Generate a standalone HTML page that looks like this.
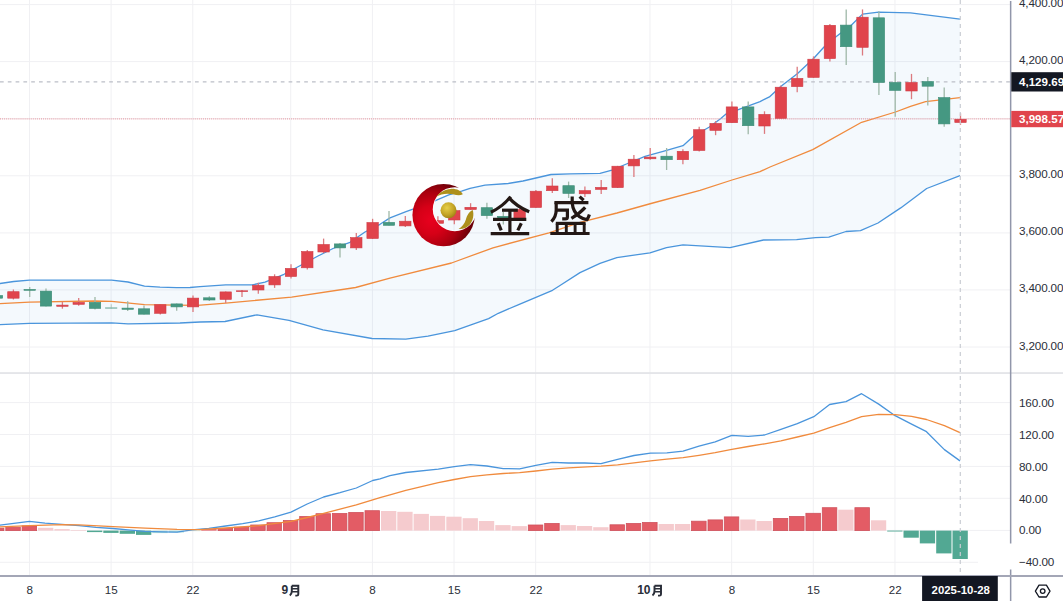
<!DOCTYPE html>
<html><head><meta charset="utf-8"><title>chart</title>
<style>
html,body{margin:0;padding:0;background:#fff;}
body{width:1063px;height:601px;overflow:hidden;position:relative;font-family:"Liberation Sans",sans-serif;}
</style></head><body>
<svg width="1063" height="601" viewBox="0 0 1063 601" style="position:absolute;left:0;top:0;display:block">
<defs><radialGradient id="rg" cx="0.30" cy="0.58" r="0.64"><stop offset="0" stop-color="#e8001e"/><stop offset="0.35" stop-color="#d60017"/><stop offset="0.7" stop-color="#aa000f"/><stop offset="1" stop-color="#6c0008"/></radialGradient><radialGradient id="gg" cx="0.4" cy="0.35" r="0.7"><stop offset="0" stop-color="#e6cf4a"/><stop offset="0.6" stop-color="#c4a526"/><stop offset="1" stop-color="#9c7f14"/></radialGradient><clipPath id="plot"><rect x="0" y="0" width="1010" height="575"/></clipPath></defs>
<rect width="1063" height="601" fill="#fff"/>
<g stroke="#f0f0f3" stroke-width="1">
<line x1="29.45" y1="0" x2="29.45" y2="575"/>
<line x1="111.10" y1="0" x2="111.10" y2="575"/>
<line x1="192.75" y1="0" x2="192.75" y2="575"/>
<line x1="290.73" y1="0" x2="290.73" y2="575"/>
<line x1="372.38" y1="0" x2="372.38" y2="575"/>
<line x1="454.03" y1="0" x2="454.03" y2="575"/>
<line x1="535.68" y1="0" x2="535.68" y2="575"/>
<line x1="649.99" y1="0" x2="649.99" y2="575"/>
<line x1="731.64" y1="0" x2="731.64" y2="575"/>
<line x1="813.29" y1="0" x2="813.29" y2="575"/>
<line x1="894.94" y1="0" x2="894.94" y2="575"/>
<line x1="0" y1="4.6" x2="1010" y2="4.6"/>
<line x1="0" y1="61.6" x2="1010" y2="61.6"/>
<line x1="0" y1="118.7" x2="1010" y2="118.7"/>
<line x1="0" y1="175.8" x2="1010" y2="175.8"/>
<line x1="0" y1="232.9" x2="1010" y2="232.9"/>
<line x1="0" y1="289.9" x2="1010" y2="289.9"/>
<line x1="0" y1="347.0" x2="1010" y2="347.0"/>
<line x1="0" y1="402.6" x2="1010" y2="402.6"/>
<line x1="0" y1="434.5" x2="1010" y2="434.5"/>
<line x1="0" y1="466.4" x2="1010" y2="466.4"/>
<line x1="0" y1="498.3" x2="1010" y2="498.3"/>
<line x1="0" y1="530.4" x2="1010" y2="530.4"/>
<line x1="0" y1="562.3" x2="1010" y2="562.3"/>
</g>
<rect x="0" y="372.2" width="1063" height="1.7" fill="#e2e3e7"/>
<polygon points="-3.0,283.7 0.0,283.5 13.7,281.5 29.5,280.1 111.6,280.1 128.0,282.0 144.5,286.1 160.0,287.2 176.5,287.6 190.0,287.5 200.0,286.7 225.7,284.9 252.0,284.9 265.0,282.2 284.0,274.3 299.0,266.2 318.0,256.0 333.0,248.5 350.0,242.3 365.0,232.0 380.0,224.3 390.0,217.9 406.0,211.7 420.0,206.6 433.0,201.6 448.8,194.8 461.6,191.1 470.0,188.4 485.0,185.2 508.0,183.5 523.0,181.0 551.0,174.5 570.0,173.9 600.0,173.4 612.0,170.2 626.4,164.0 645.0,156.4 664.0,151.2 683.0,145.7 694.0,135.7 709.0,127.3 720.5,118.8 726.0,114.1 739.0,109.4 760.0,101.6 769.4,96.9 780.7,86.5 797.6,73.4 813.8,58.3 824.0,47.0 835.0,37.6 852.0,24.5 862.5,14.1 878.5,12.2 910.5,12.8 960.0,19.2 960.0,175.7 926.7,188.5 900.7,207.9 878.0,223.0 860.5,230.6 846.0,231.5 828.8,237.2 815.5,237.7 796.6,239.6 763.5,240.0 730.0,247.6 683.0,244.8 666.5,247.6 650.0,252.8 616.8,257.6 600.0,263.3 580.0,272.6 560.0,285.5 552.5,290.3 518.7,304.6 498.3,313.3 488.6,318.6 454.7,330.6 428.0,336.2 405.8,339.2 372.0,338.5 323.0,329.8 289.0,320.4 257.0,314.8 225.0,321.5 200.0,322.0 180.0,323.0 128.0,323.9 111.6,322.8 29.5,323.4 0.0,324.7 -3.0,324.8" fill="#2f8fe0" fill-opacity="0.055"/>
<polyline points="-3.0,283.7 0.0,283.5 13.7,281.5 29.5,280.1 111.6,280.1 128.0,282.0 144.5,286.1 160.0,287.2 176.5,287.6 190.0,287.5 200.0,286.7 225.7,284.9 252.0,284.9 265.0,282.2 284.0,274.3 299.0,266.2 318.0,256.0 333.0,248.5 350.0,242.3 365.0,232.0 380.0,224.3 390.0,217.9 406.0,211.7 420.0,206.6 433.0,201.6 448.8,194.8 461.6,191.1 470.0,188.4 485.0,185.2 508.0,183.5 523.0,181.0 551.0,174.5 570.0,173.9 600.0,173.4 612.0,170.2 626.4,164.0 645.0,156.4 664.0,151.2 683.0,145.7 694.0,135.7 709.0,127.3 720.5,118.8 726.0,114.1 739.0,109.4 760.0,101.6 769.4,96.9 780.7,86.5 797.6,73.4 813.8,58.3 824.0,47.0 835.0,37.6 852.0,24.5 862.5,14.1 878.5,12.2 910.5,12.8 960.0,19.2" fill="none" stroke="#4a95dc" stroke-width="1.3" stroke-linejoin="round"/>
<polyline points="-3.0,324.8 0.0,324.7 29.5,323.4 111.6,322.8 128.0,323.9 180.0,323.0 200.0,322.0 225.0,321.5 257.0,314.8 289.0,320.4 323.0,329.8 372.0,338.5 405.8,339.2 428.0,336.2 454.7,330.6 488.6,318.6 498.3,313.3 518.7,304.6 552.5,290.3 560.0,285.5 580.0,272.6 600.0,263.3 616.8,257.6 650.0,252.8 666.5,247.6 683.0,244.8 730.0,247.6 763.5,240.0 796.6,239.6 815.5,237.7 828.8,237.2 846.0,231.5 860.5,230.6 878.0,223.0 900.7,207.9 926.7,188.5 960.0,175.7" fill="none" stroke="#4a95dc" stroke-width="1.3" stroke-linejoin="round"/>
<polyline points="-3.0,303.8 0.0,303.6 29.5,302.1 94.0,301.0 111.6,301.4 144.5,304.6 176.5,305.1 197.5,305.4 225.7,303.1 291.6,297.1 355.6,287.5 390.0,278.1 451.5,263.0 493.0,247.8 549.0,232.8 580.0,222.4 617.0,213.0 651.0,203.5 700.0,190.3 732.0,180.0 760.0,171.6 770.0,167.0 812.7,149.6 861.6,122.3 895.5,112.0 910.5,106.3 925.6,101.6 960.0,97.6" fill="none" stroke="#f08b3e" stroke-width="1.3" stroke-linejoin="round"/>
<line x1="0" y1="81.8" x2="1010" y2="81.8" stroke="#bcbfc7" stroke-width="1.3" stroke-dasharray="3.7 4.1"/>
<line x1="0" y1="118.9" x2="1010" y2="118.9" stroke="#e8909a" stroke-width="1" stroke-dasharray="1 1.05"/>
<g><line x1="-3.0" y1="294.0" x2="-3.0" y2="300.0" stroke="#9fb8a8" stroke-width="1.3"/><rect x="-8.7" y="295.5" width="11.4" height="2.7" fill="#459882" stroke="#3d8c76" stroke-width="0.6"/></g>
<g><line x1="13.4" y1="289.5" x2="13.4" y2="299.5" stroke="#dc7a7f" stroke-width="1.3"/><rect x="7.7" y="291.7" width="11.4" height="6.5" fill="#e0444c" stroke="#cf3d46" stroke-width="0.6"/></g>
<g><line x1="29.7" y1="287.1" x2="29.7" y2="297.0" stroke="#9fb8a8" stroke-width="1.3"/><rect x="24.0" y="289.4" width="11.4" height="0.9" fill="#459882" stroke="#3d8c76" stroke-width="0.6"/></g>
<g><line x1="46.0" y1="288.6" x2="46.0" y2="306.4" stroke="#9fb8a8" stroke-width="1.3"/><rect x="40.3" y="291.1" width="11.4" height="15.0" fill="#459882" stroke="#3d8c76" stroke-width="0.6"/></g>
<g><line x1="62.4" y1="301.7" x2="62.4" y2="308.7" stroke="#dc7a7f" stroke-width="1.3"/><rect x="56.7" y="305.1" width="11.4" height="1.2" fill="#e0444c" stroke="#cf3d46" stroke-width="0.6"/></g>
<g><line x1="78.7" y1="298.0" x2="78.7" y2="305.7" stroke="#dc7a7f" stroke-width="1.3"/><rect x="73.0" y="302.4" width="11.4" height="1.9" fill="#e0444c" stroke="#cf3d46" stroke-width="0.6"/></g>
<g><line x1="95.0" y1="297.0" x2="95.0" y2="309.6" stroke="#9fb8a8" stroke-width="1.3"/><rect x="89.3" y="302.4" width="11.4" height="6.0" fill="#459882" stroke="#3d8c76" stroke-width="0.6"/></g>
<g opacity="0.55"><line x1="111.3" y1="304.2" x2="111.3" y2="308.7" stroke="#9fb8a8" stroke-width="1.3"/><rect x="105.6" y="307.7" width="11.4" height="0.8" fill="#459882" stroke="#3d8c76" stroke-width="0.6"/></g>
<g><line x1="127.7" y1="301.2" x2="127.7" y2="311.0" stroke="#9fb8a8" stroke-width="1.3"/><rect x="122.0" y="308.1" width="11.4" height="1.2" fill="#459882" stroke="#3d8c76" stroke-width="0.6"/></g>
<g><line x1="144.0" y1="305.5" x2="144.0" y2="314.5" stroke="#9fb8a8" stroke-width="1.3"/><rect x="138.3" y="308.8" width="11.4" height="5.4" fill="#459882" stroke="#3d8c76" stroke-width="0.6"/></g>
<g><line x1="160.3" y1="304.4" x2="160.3" y2="314.5" stroke="#dc7a7f" stroke-width="1.3"/><rect x="154.6" y="304.7" width="11.4" height="8.6" fill="#e0444c" stroke="#cf3d46" stroke-width="0.6"/></g>
<g><line x1="176.7" y1="303.6" x2="176.7" y2="310.8" stroke="#9fb8a8" stroke-width="1.3"/><rect x="171.0" y="303.9" width="11.4" height="3.0" fill="#459882" stroke="#3d8c76" stroke-width="0.6"/></g>
<g><line x1="193.0" y1="295.6" x2="193.0" y2="312.0" stroke="#dc7a7f" stroke-width="1.3"/><rect x="187.3" y="298.1" width="11.4" height="8.8" fill="#e0444c" stroke="#cf3d46" stroke-width="0.6"/></g>
<g><line x1="209.3" y1="296.3" x2="209.3" y2="301.0" stroke="#9fb8a8" stroke-width="1.3"/><rect x="203.6" y="297.8" width="11.4" height="2.2" fill="#459882" stroke="#3d8c76" stroke-width="0.6"/></g>
<g><line x1="225.7" y1="291.6" x2="225.7" y2="303.1" stroke="#dc7a7f" stroke-width="1.3"/><rect x="220.0" y="291.9" width="11.4" height="7.5" fill="#e0444c" stroke="#cf3d46" stroke-width="0.6"/></g>
<g><line x1="242.0" y1="290.0" x2="242.0" y2="296.9" stroke="#dc7a7f" stroke-width="1.3"/><rect x="236.3" y="290.8" width="11.4" height="0.8" fill="#e0444c" stroke="#cf3d46" stroke-width="0.6"/></g>
<g><line x1="258.3" y1="282.8" x2="258.3" y2="293.7" stroke="#dc7a7f" stroke-width="1.3"/><rect x="252.6" y="285.2" width="11.4" height="4.8" fill="#e0444c" stroke="#cf3d46" stroke-width="0.6"/></g>
<g><line x1="274.6" y1="274.3" x2="274.6" y2="287.9" stroke="#dc7a7f" stroke-width="1.3"/><rect x="268.9" y="276.5" width="11.4" height="8.4" fill="#e0444c" stroke="#cf3d46" stroke-width="0.6"/></g>
<g><line x1="291.0" y1="264.3" x2="291.0" y2="278.6" stroke="#dc7a7f" stroke-width="1.3"/><rect x="285.3" y="268.4" width="11.4" height="8.1" fill="#e0444c" stroke="#cf3d46" stroke-width="0.6"/></g>
<g><line x1="307.3" y1="250.0" x2="307.3" y2="269.6" stroke="#dc7a7f" stroke-width="1.3"/><rect x="301.6" y="251.5" width="11.4" height="16.3" fill="#e0444c" stroke="#cf3d46" stroke-width="0.6"/></g>
<g><line x1="323.6" y1="238.6" x2="323.6" y2="253.2" stroke="#dc7a7f" stroke-width="1.3"/><rect x="317.9" y="244.5" width="11.4" height="7.5" fill="#e0444c" stroke="#cf3d46" stroke-width="0.6"/></g>
<g><line x1="340.0" y1="242.9" x2="340.0" y2="257.4" stroke="#9fb8a8" stroke-width="1.3"/><rect x="334.3" y="243.9" width="11.4" height="4.0" fill="#459882" stroke="#3d8c76" stroke-width="0.6"/></g>
<g><line x1="356.3" y1="232.9" x2="356.3" y2="249.9" stroke="#dc7a7f" stroke-width="1.3"/><rect x="350.6" y="237.6" width="11.4" height="10.3" fill="#e0444c" stroke="#cf3d46" stroke-width="0.6"/></g>
<g><line x1="372.6" y1="218.8" x2="372.6" y2="238.8" stroke="#dc7a7f" stroke-width="1.3"/><rect x="366.9" y="222.5" width="11.4" height="16.0" fill="#e0444c" stroke="#cf3d46" stroke-width="0.6"/></g>
<g><line x1="389.0" y1="211.1" x2="389.0" y2="225.6" stroke="#9fb8a8" stroke-width="1.3"/><rect x="383.3" y="222.4" width="11.4" height="2.9" fill="#459882" stroke="#3d8c76" stroke-width="0.6"/></g>
<g><line x1="405.3" y1="215.9" x2="405.3" y2="227.1" stroke="#dc7a7f" stroke-width="1.3"/><rect x="399.6" y="221.2" width="11.4" height="4.7" fill="#e0444c" stroke="#cf3d46" stroke-width="0.6"/></g>
<g><line x1="421.6" y1="216.0" x2="421.6" y2="225.0" stroke="#dc7a7f" stroke-width="1.3"/><rect x="415.9" y="219.3" width="11.4" height="3.4" fill="#e0444c" stroke="#cf3d46" stroke-width="0.6"/></g>
<g><line x1="437.9" y1="216.3" x2="437.9" y2="224.5" stroke="#dc7a7f" stroke-width="1.3"/><rect x="432.2" y="220.6" width="11.4" height="2.7" fill="#e0444c" stroke="#cf3d46" stroke-width="0.6"/></g>
<g><line x1="454.3" y1="207.5" x2="454.3" y2="224.3" stroke="#dc7a7f" stroke-width="1.3"/><rect x="448.6" y="210.6" width="11.4" height="9.4" fill="#e0444c" stroke="#cf3d46" stroke-width="0.6"/></g>
<g><line x1="470.6" y1="203.2" x2="470.6" y2="209.8" stroke="#dc7a7f" stroke-width="1.3"/><rect x="464.9" y="207.3" width="11.4" height="2.2" fill="#e0444c" stroke="#cf3d46" stroke-width="0.6"/></g>
<g><line x1="486.9" y1="202.7" x2="486.9" y2="218.7" stroke="#9fb8a8" stroke-width="1.3"/><rect x="481.2" y="207.7" width="11.4" height="7.9" fill="#459882" stroke="#3d8c76" stroke-width="0.6"/></g>
<g><line x1="503.3" y1="212.0" x2="503.3" y2="224.5" stroke="#9fb8a8" stroke-width="1.3"/><rect x="497.6" y="216.3" width="11.4" height="2.0" fill="#459882" stroke="#3d8c76" stroke-width="0.6"/></g>
<g><line x1="519.6" y1="208.5" x2="519.6" y2="219.0" stroke="#dc7a7f" stroke-width="1.3"/><rect x="513.9" y="209.6" width="11.4" height="8.5" fill="#e0444c" stroke="#cf3d46" stroke-width="0.6"/></g>
<g><line x1="535.9" y1="190.0" x2="535.9" y2="207.8" stroke="#dc7a7f" stroke-width="1.3"/><rect x="530.2" y="191.2" width="11.4" height="16.3" fill="#e0444c" stroke="#cf3d46" stroke-width="0.6"/></g>
<g><line x1="552.3" y1="178.2" x2="552.3" y2="192.9" stroke="#dc7a7f" stroke-width="1.3"/><rect x="546.6" y="186.0" width="11.4" height="4.7" fill="#e0444c" stroke="#cf3d46" stroke-width="0.6"/></g>
<g><line x1="568.6" y1="181.6" x2="568.6" y2="198.0" stroke="#9fb8a8" stroke-width="1.3"/><rect x="562.9" y="185.7" width="11.4" height="7.7" fill="#459882" stroke="#3d8c76" stroke-width="0.6"/></g>
<g><line x1="584.9" y1="186.5" x2="584.9" y2="196.9" stroke="#dc7a7f" stroke-width="1.3"/><rect x="579.2" y="190.6" width="11.4" height="3.2" fill="#e0444c" stroke="#cf3d46" stroke-width="0.6"/></g>
<g><line x1="601.2" y1="180.0" x2="601.2" y2="194.1" stroke="#dc7a7f" stroke-width="1.3"/><rect x="595.5" y="187.4" width="11.4" height="2.0" fill="#e0444c" stroke="#cf3d46" stroke-width="0.6"/></g>
<g><line x1="617.6" y1="165.9" x2="617.6" y2="187.9" stroke="#dc7a7f" stroke-width="1.3"/><rect x="611.9" y="166.2" width="11.4" height="21.4" fill="#e0444c" stroke="#cf3d46" stroke-width="0.6"/></g>
<g><line x1="633.9" y1="154.9" x2="633.9" y2="177.1" stroke="#dc7a7f" stroke-width="1.3"/><rect x="628.2" y="159.2" width="11.4" height="6.7" fill="#e0444c" stroke="#cf3d46" stroke-width="0.6"/></g>
<g><line x1="650.2" y1="148.0" x2="650.2" y2="159.8" stroke="#dc7a7f" stroke-width="1.3"/><rect x="644.5" y="157.1" width="11.4" height="1.7" fill="#e0444c" stroke="#cf3d46" stroke-width="0.6"/></g>
<g><line x1="666.6" y1="148.0" x2="666.6" y2="170.0" stroke="#9fb8a8" stroke-width="1.3"/><rect x="660.9" y="156.2" width="11.4" height="3.5" fill="#459882" stroke="#3d8c76" stroke-width="0.6"/></g>
<g><line x1="682.9" y1="149.3" x2="682.9" y2="164.3" stroke="#dc7a7f" stroke-width="1.3"/><rect x="677.2" y="151.3" width="11.4" height="8.4" fill="#e0444c" stroke="#cf3d46" stroke-width="0.6"/></g>
<g><line x1="699.2" y1="126.7" x2="699.2" y2="151.6" stroke="#dc7a7f" stroke-width="1.3"/><rect x="693.5" y="129.7" width="11.4" height="20.8" fill="#e0444c" stroke="#cf3d46" stroke-width="0.6"/></g>
<g><line x1="715.6" y1="121.1" x2="715.6" y2="135.2" stroke="#dc7a7f" stroke-width="1.3"/><rect x="709.9" y="123.4" width="11.4" height="7.0" fill="#e0444c" stroke="#cf3d46" stroke-width="0.6"/></g>
<g><line x1="731.9" y1="101.5" x2="731.9" y2="123.0" stroke="#dc7a7f" stroke-width="1.3"/><rect x="726.2" y="106.9" width="11.4" height="15.8" fill="#e0444c" stroke="#cf3d46" stroke-width="0.6"/></g>
<g><line x1="748.2" y1="101.5" x2="748.2" y2="134.2" stroke="#9fb8a8" stroke-width="1.3"/><rect x="742.5" y="106.9" width="11.4" height="18.8" fill="#459882" stroke="#3d8c76" stroke-width="0.6"/></g>
<g><line x1="764.5" y1="111.3" x2="764.5" y2="133.9" stroke="#dc7a7f" stroke-width="1.3"/><rect x="758.8" y="114.4" width="11.4" height="11.6" fill="#e0444c" stroke="#cf3d46" stroke-width="0.6"/></g>
<g><line x1="780.9" y1="85.6" x2="780.9" y2="118.6" stroke="#dc7a7f" stroke-width="1.3"/><rect x="775.2" y="87.2" width="11.4" height="31.1" fill="#e0444c" stroke="#cf3d46" stroke-width="0.6"/></g>
<g><line x1="797.2" y1="66.8" x2="797.2" y2="92.2" stroke="#dc7a7f" stroke-width="1.3"/><rect x="791.5" y="78.4" width="11.4" height="8.2" fill="#e0444c" stroke="#cf3d46" stroke-width="0.6"/></g>
<g><line x1="813.5" y1="56.4" x2="813.5" y2="77.7" stroke="#dc7a7f" stroke-width="1.3"/><rect x="807.8" y="59.2" width="11.4" height="18.2" fill="#e0444c" stroke="#cf3d46" stroke-width="0.6"/></g>
<g><line x1="829.9" y1="23.9" x2="829.9" y2="61.5" stroke="#dc7a7f" stroke-width="1.3"/><rect x="824.2" y="25.3" width="11.4" height="33.3" fill="#e0444c" stroke="#cf3d46" stroke-width="0.6"/></g>
<g><line x1="846.2" y1="9.4" x2="846.2" y2="64.9" stroke="#9fb8a8" stroke-width="1.3"/><rect x="840.5" y="25.1" width="11.4" height="21.6" fill="#459882" stroke="#3d8c76" stroke-width="0.6"/></g>
<g><line x1="862.5" y1="9.4" x2="862.5" y2="55.5" stroke="#dc7a7f" stroke-width="1.3"/><rect x="856.8" y="17.2" width="11.4" height="30.1" fill="#e0444c" stroke="#cf3d46" stroke-width="0.6"/></g>
<g><line x1="878.9" y1="11.3" x2="878.9" y2="95.0" stroke="#9fb8a8" stroke-width="1.3"/><rect x="873.2" y="17.8" width="11.4" height="64.7" fill="#459882" stroke="#3d8c76" stroke-width="0.6"/></g>
<g><line x1="895.2" y1="72.0" x2="895.2" y2="116.7" stroke="#9fb8a8" stroke-width="1.3"/><rect x="889.5" y="82.5" width="11.4" height="7.9" fill="#459882" stroke="#3d8c76" stroke-width="0.6"/></g>
<g><line x1="911.5" y1="73.9" x2="911.5" y2="99.2" stroke="#dc7a7f" stroke-width="1.3"/><rect x="905.8" y="82.5" width="11.4" height="8.5" fill="#e0444c" stroke="#cf3d46" stroke-width="0.6"/></g>
<g><line x1="927.8" y1="77.1" x2="927.8" y2="105.4" stroke="#9fb8a8" stroke-width="1.3"/><rect x="922.1" y="81.6" width="11.4" height="4.6" fill="#459882" stroke="#3d8c76" stroke-width="0.6"/></g>
<g><line x1="944.2" y1="87.5" x2="944.2" y2="126.7" stroke="#9fb8a8" stroke-width="1.3"/><rect x="938.5" y="97.6" width="11.4" height="26.3" fill="#459882" stroke="#3d8c76" stroke-width="0.6"/></g>
<g><line x1="960.5" y1="113.3" x2="960.5" y2="124.8" stroke="#dc7a7f" stroke-width="1.3"/><rect x="954.8" y="119.3" width="11.4" height="3.2" fill="#e0444c" stroke="#cf3d46" stroke-width="0.6"/></g>
<rect x="-10.6" y="528.2" width="14.5" height="2.4" fill="#e35c65" stroke="#cf525c" stroke-width="0.8"/>
<rect x="5.8" y="527.2" width="14.5" height="3.4" fill="#e35c65" stroke="#cf525c" stroke-width="0.8"/>
<rect x="22.1" y="525.9" width="14.5" height="4.7" fill="#e35c65" stroke="#cf525c" stroke-width="0.8"/>
<rect x="38.0" y="527.8" width="15.3" height="2.8" fill="#f5cbce"/>
<rect x="54.4" y="529.1" width="15.3" height="1.5" fill="#f5cbce"/>
<rect x="70.7" y="530.0" width="15.3" height="0.6" fill="#f5cbce"/>
<rect x="87.0" y="530.6" width="15.3" height="1.5" fill="#52a893"/>
<rect x="103.3" y="530.6" width="15.3" height="2.3" fill="#52a893"/>
<rect x="119.7" y="530.6" width="15.3" height="3.2" fill="#52a893"/>
<rect x="136.0" y="530.6" width="15.3" height="4.3" fill="#52a893"/>
<rect x="152.3" y="530.6" width="15.3" height="2.5" fill="#b5e0d6"/>
<rect x="168.7" y="530.6" width="15.3" height="1.9" fill="#b5e0d6"/>
<rect x="185.0" y="530.6" width="15.3" height="0.5" fill="#b5e0d6"/>
<rect x="201.3" y="529.1" width="15.3" height="1.5" fill="#e35c65"/>
<rect x="218.1" y="528.4" width="14.5" height="2.2" fill="#e35c65" stroke="#cf525c" stroke-width="0.8"/>
<rect x="234.4" y="527.2" width="14.5" height="3.4" fill="#e35c65" stroke="#cf525c" stroke-width="0.8"/>
<rect x="250.7" y="525.0" width="14.5" height="5.6" fill="#e35c65" stroke="#cf525c" stroke-width="0.8"/>
<rect x="267.0" y="522.7" width="14.5" height="7.9" fill="#e35c65" stroke="#cf525c" stroke-width="0.8"/>
<rect x="283.4" y="520.6" width="14.5" height="10.0" fill="#e35c65" stroke="#cf525c" stroke-width="0.8"/>
<rect x="299.7" y="516.5" width="14.5" height="14.1" fill="#e35c65" stroke="#cf525c" stroke-width="0.8"/>
<rect x="316.0" y="513.7" width="14.5" height="16.9" fill="#e35c65" stroke="#cf525c" stroke-width="0.8"/>
<rect x="332.4" y="513.5" width="14.5" height="17.1" fill="#e35c65" stroke="#cf525c" stroke-width="0.8"/>
<rect x="348.7" y="512.5" width="14.5" height="18.1" fill="#e35c65" stroke="#cf525c" stroke-width="0.8"/>
<rect x="365.0" y="510.7" width="14.5" height="19.9" fill="#e35c65" stroke="#cf525c" stroke-width="0.8"/>
<rect x="381.0" y="511.0" width="15.3" height="19.6" fill="#f5cbce"/>
<rect x="397.3" y="511.8" width="15.3" height="18.8" fill="#f5cbce"/>
<rect x="413.6" y="513.9" width="15.3" height="16.7" fill="#f5cbce"/>
<rect x="429.9" y="515.9" width="15.3" height="14.7" fill="#f5cbce"/>
<rect x="446.3" y="516.7" width="15.3" height="13.9" fill="#f5cbce"/>
<rect x="462.6" y="518.2" width="15.3" height="12.4" fill="#f5cbce"/>
<rect x="478.9" y="521.0" width="15.3" height="9.6" fill="#f5cbce"/>
<rect x="495.3" y="525.1" width="15.3" height="5.5" fill="#f5cbce"/>
<rect x="511.6" y="526.1" width="15.3" height="4.5" fill="#f5cbce"/>
<rect x="528.3" y="525.0" width="14.5" height="5.6" fill="#e35c65" stroke="#cf525c" stroke-width="0.8"/>
<rect x="544.7" y="523.5" width="14.5" height="7.1" fill="#e35c65" stroke="#cf525c" stroke-width="0.8"/>
<rect x="560.6" y="525.1" width="15.3" height="5.5" fill="#f5cbce"/>
<rect x="576.9" y="526.0" width="15.3" height="4.6" fill="#f5cbce"/>
<rect x="593.2" y="527.2" width="15.3" height="3.4" fill="#f5cbce"/>
<rect x="610.0" y="524.8" width="14.5" height="5.8" fill="#e35c65" stroke="#cf525c" stroke-width="0.8"/>
<rect x="626.3" y="523.5" width="14.5" height="7.1" fill="#e35c65" stroke="#cf525c" stroke-width="0.8"/>
<rect x="642.6" y="522.5" width="14.5" height="8.1" fill="#e35c65" stroke="#cf525c" stroke-width="0.8"/>
<rect x="658.6" y="524.0" width="15.3" height="6.6" fill="#f5cbce"/>
<rect x="674.9" y="524.0" width="15.3" height="6.6" fill="#f5cbce"/>
<rect x="691.6" y="521.2" width="14.5" height="9.4" fill="#e35c65" stroke="#cf525c" stroke-width="0.8"/>
<rect x="708.0" y="519.9" width="14.5" height="10.7" fill="#e35c65" stroke="#cf525c" stroke-width="0.8"/>
<rect x="724.3" y="516.9" width="14.5" height="13.7" fill="#e35c65" stroke="#cf525c" stroke-width="0.8"/>
<rect x="740.2" y="519.5" width="15.3" height="11.1" fill="#f5cbce"/>
<rect x="756.5" y="521.0" width="15.3" height="9.6" fill="#f5cbce"/>
<rect x="773.3" y="518.4" width="14.5" height="12.2" fill="#e35c65" stroke="#cf525c" stroke-width="0.8"/>
<rect x="789.6" y="516.5" width="14.5" height="14.1" fill="#e35c65" stroke="#cf525c" stroke-width="0.8"/>
<rect x="805.9" y="513.3" width="14.5" height="17.3" fill="#e35c65" stroke="#cf525c" stroke-width="0.8"/>
<rect x="822.3" y="507.7" width="14.5" height="22.9" fill="#e35c65" stroke="#cf525c" stroke-width="0.8"/>
<rect x="838.2" y="509.7" width="15.3" height="20.9" fill="#f5cbce"/>
<rect x="854.9" y="507.7" width="14.5" height="22.9" fill="#e35c65" stroke="#cf525c" stroke-width="0.8"/>
<rect x="870.9" y="520.3" width="15.3" height="10.3" fill="#f5cbce"/>
<rect x="887.2" y="530.6" width="15.3" height="0.9" fill="#52a893"/>
<rect x="903.5" y="530.6" width="15.3" height="7.1" fill="#52a893"/>
<rect x="919.8" y="530.6" width="15.3" height="12.8" fill="#52a893"/>
<rect x="936.2" y="530.6" width="15.3" height="22.8" fill="#52a893"/>
<rect x="952.5" y="530.6" width="15.3" height="28.4" fill="#52a893"/>
<polyline points="-3.0,525.3 0.0,525.1 29.5,521.3 45.0,523.2 62.0,524.3 79.0,525.6 96.0,527.3 113.0,528.5 128.0,529.8 145.0,531.3 162.0,531.8 177.0,532.2 192.0,529.8 208.8,528.4 225.7,526.0 242.7,523.7 258.7,520.9 274.7,516.8 291.0,512.1 307.2,504.0 323.6,497.0 340.0,492.7 356.3,488.0 372.7,480.5 380.0,478.9 390.0,475.7 405.8,472.5 438.3,469.2 454.3,466.7 470.5,464.6 486.9,466.0 503.2,468.6 519.6,468.8 535.8,465.4 552.2,462.4 568.5,463.0 584.7,463.0 601.0,463.6 617.6,459.3 634.0,455.5 650.5,453.1 666.9,452.9 683.1,451.2 699.0,446.1 715.2,441.8 731.8,435.4 748.2,436.3 764.5,435.0 780.9,429.3 797.3,423.7 813.8,416.7 829.6,404.5 846.0,401.6 861.6,393.7 878.7,404.1 895.1,415.7 911.6,424.2 926.5,431.7 944.4,449.6 960.0,460.9" fill="none" stroke="#4a95dc" stroke-width="1.3" stroke-linejoin="round"/>
<polyline points="-3.0,527.0 0.0,526.9 29.5,525.6 62.0,524.7 79.0,524.9 113.0,526.6 145.0,528.1 177.0,529.4 200.0,529.6 225.7,528.0 258.7,525.6 291.0,521.3 307.2,517.5 323.6,513.4 340.0,509.2 356.3,504.9 372.7,499.8 380.0,497.7 390.0,494.9 405.8,490.4 438.3,482.7 454.3,479.5 470.5,476.7 486.9,474.8 503.2,473.5 519.6,472.7 535.8,471.0 552.2,469.2 568.5,467.8 601.0,466.2 617.6,464.9 634.0,462.8 650.5,460.8 666.9,459.1 683.1,457.6 699.0,455.3 715.2,452.7 731.8,449.3 748.2,446.5 764.7,443.8 780.9,440.8 797.3,437.0 813.8,433.2 829.6,427.6 846.0,422.3 861.6,416.7 878.7,414.4 895.1,414.6 911.6,416.3 926.5,419.5 944.4,425.7 960.0,432.7" fill="none" stroke="#f08b3e" stroke-width="1.3" stroke-linejoin="round"/>
<line x1="960.3" y1="0" x2="960.3" y2="575" stroke="#c9ccd3" stroke-width="1.2" stroke-dasharray="4 4"/>
<g id="logo">
<defs>
<mask id="cm" maskUnits="userSpaceOnUse" x="405" y="178" width="80" height="75"><rect x="405" y="178" width="80" height="75" fill="#fff"/><circle cx="454.8" cy="209.2" r="22" fill="#000"/></mask>
<mask id="cm2" maskUnits="userSpaceOnUse" x="405" y="178" width="80" height="75"><rect x="405" y="178" width="80" height="75" fill="#fff"/><circle cx="454.8" cy="209.2" r="21.3" fill="#000"/></mask>
<clipPath id="oc"><circle cx="443.6" cy="215.1" r="31.2"/></clipPath>
</defs>
<circle cx="443.6" cy="215.1" r="31.2" fill="#ffffff" mask="url(#cm2)"/>
<circle cx="443.6" cy="215.1" r="31.2" fill="url(#rg)" mask="url(#cm)"/>
<path d="M436.4,196.6 C439.4,192.4 445,189.2 450.6,188.9 C456.6,188.6 461.2,190.9 462.8,194.2 C460.2,195.7 457,195.3 453,194.3 C447,192.9 441,193.9 436.4,196.6Z" fill="#ad901c"/>
<path d="M472.7,210 C474.2,214.5 473.2,220.6 469.7,224.7 C467,227.8 462.8,229.4 458.6,229 C462,226.8 464.6,223.4 465.9,219.4 C467.1,215.6 468.7,212 472.7,210Z" fill="#ad901c"/>
<circle cx="448.5" cy="210.3" r="8" fill="url(#gg)"/>
<g fill="none" stroke="#231815" stroke-width="3.2" stroke-linecap="butt" stroke-linejoin="miter">
<path d="M510.6,196.6 Q503,206.5 490.9,212.2"/>
<path d="M508.6,197.4 Q516.5,206.5 529.2,211.8"/>
<path d="M502,210.2 H517.8"/>
<path d="M493,219.4 H526.3"/>
<path d="M509.9,210.2 V233.5"/>
<path d="M498.3,223.2 L501.2,230.4"/>
<path d="M521.3,223.2 L517.8,230.4"/>
<path d="M490.7,233.6 H529.2"/>
<path d="M554.4,202.6 H588.4"/>
<path d="M556.2,202.6 V210 Q556.2,216.5 551.4,221.6"/>
<path d="M556.2,210.1 H567.4 V217 Q567.4,218.9 565.4,218.9 H562.2"/>
<path d="M572.2,196.4 V203 Q573,212 579.5,216.6 Q583.8,219.5 586.9,219.7 Q588.4,217.6 589.4,214.4"/>
<path d="M585.2,207.4 Q580,213.3 571.4,218.4"/>
<path d="M579.6,196.6 L583.6,200.2"/>
<path d="M555.8,223.4 H585.6"/>
<path d="M557.2,223.4 V233.4 M566.3,223.4 V233.4 M575.1,223.4 V233.4 M584.2,223.4 V233.4" stroke-width="2.9"/>
<path d="M550.3,233.5 H589.6"/>
</g>
</g>

<rect x="978" y="543.5" width="36" height="26" fill="#fff"/>
<rect x="1009.9" y="1" width="1.5" height="542.5" fill="#9196aa"/>
<rect x="1009.9" y="569.5" width="1.5" height="31.5" fill="#9196aa"/>
<rect x="0" y="575" width="1063" height="2" fill="#a3a6b6"/>
<rect x="1011.3" y="72.2" width="52" height="19.3" fill="#131722"/>
<rect x="1011.3" y="110.9" width="52" height="16.3" fill="#e0444c"/>
<rect x="922.1" y="576" width="75.7" height="25" fill="#131722"/>
<polygon points="1050.0,591.1 1046.4,597.0 1039.0,597.0 1035.4,591.1 1039.0,585.2 1046.4,585.2" fill="none" stroke="#131722" stroke-width="1.3" stroke-linejoin="round"/><circle cx="1042.7" cy="591.1" r="2.3" fill="none" stroke="#131722" stroke-width="1.3"/>
<g font-family="Liberation Sans, sans-serif" font-size="11.7" letter-spacing="-0.15" fill="#2a2e39">
<text x="1019" y="6.8">4,400.00</text>
<text x="1019" y="64.2">4,200.00</text>
<text x="1019" y="178.2">3,800.00</text>
<text x="1019" y="235.2">3,600.00</text>
<text x="1019" y="292.3">3,400.00</text>
<text x="1019" y="349.5">3,200.00</text>
<text x="1019" y="407.0">160.00</text>
<text x="1019" y="438.9">120.00</text>
<text x="1019" y="470.7">80.00</text>
<text x="1019" y="502.5">40.00</text>
<text x="1019" y="534.1">0.00</text>
<text x="1019" y="566.4">−40.00</text>
</g>
<g font-family="Liberation Sans, sans-serif" font-size="11.6" font-weight="bold" fill="#fff">
<text x="1019" y="85.5">4,129.69</text>
<text x="1019" y="123.1">3,998.57</text>
<text x="931.6" y="594.4" font-size="11.4">2025-10-28</text>
</g>
<g font-family="Liberation Sans, sans-serif" font-size="11.6" fill="#2a2e39" text-anchor="middle">
<text x="29.7" y="594.4">8</text>
<text x="111.3" y="594.4">15</text>
<text x="193.0" y="594.4">22</text>
<text x="372.6" y="594.4">8</text>
<text x="454.3" y="594.4">15</text>
<text x="535.9" y="594.4">22</text>
<text x="731.9" y="594.4">8</text>
<text x="813.5" y="594.4">15</text>
<text x="895.2" y="594.4">22</text>
</g>
<g font-family="Liberation Sans, sans-serif" font-size="12" font-weight="bold" fill="#2a2e39">
<text x="281.6" y="594.4">9</text>
<text x="637.2" y="594.4">10</text>
</g>
<g fill="none" stroke="#2a2e39" stroke-width="1.95" stroke-linecap="butt" stroke-linejoin="miter"><path d="M291.8,585.8 H298.3 V594.3 Q298.3,595.6 296.8,595.6 H295.3"/><path d="M291.8,585.8 V591.1 Q291.8,594.1 289.8,595.5"/><path d="M291.8,588.8 H298.3 M291.8,591.7 H298.3" stroke-width="1.6"/></g>
<g fill="none" stroke="#2a2e39" stroke-width="1.95" stroke-linecap="butt" stroke-linejoin="miter"><path d="M654.5,585.8 H661.0 V594.3 Q661.0,595.6 659.5,595.6 H658.0"/><path d="M654.5,585.8 V591.1 Q654.5,594.1 652.5,595.5"/><path d="M654.5,588.8 H661.0 M654.5,591.7 H661.0" stroke-width="1.6"/></g>
</svg>
</body></html>
